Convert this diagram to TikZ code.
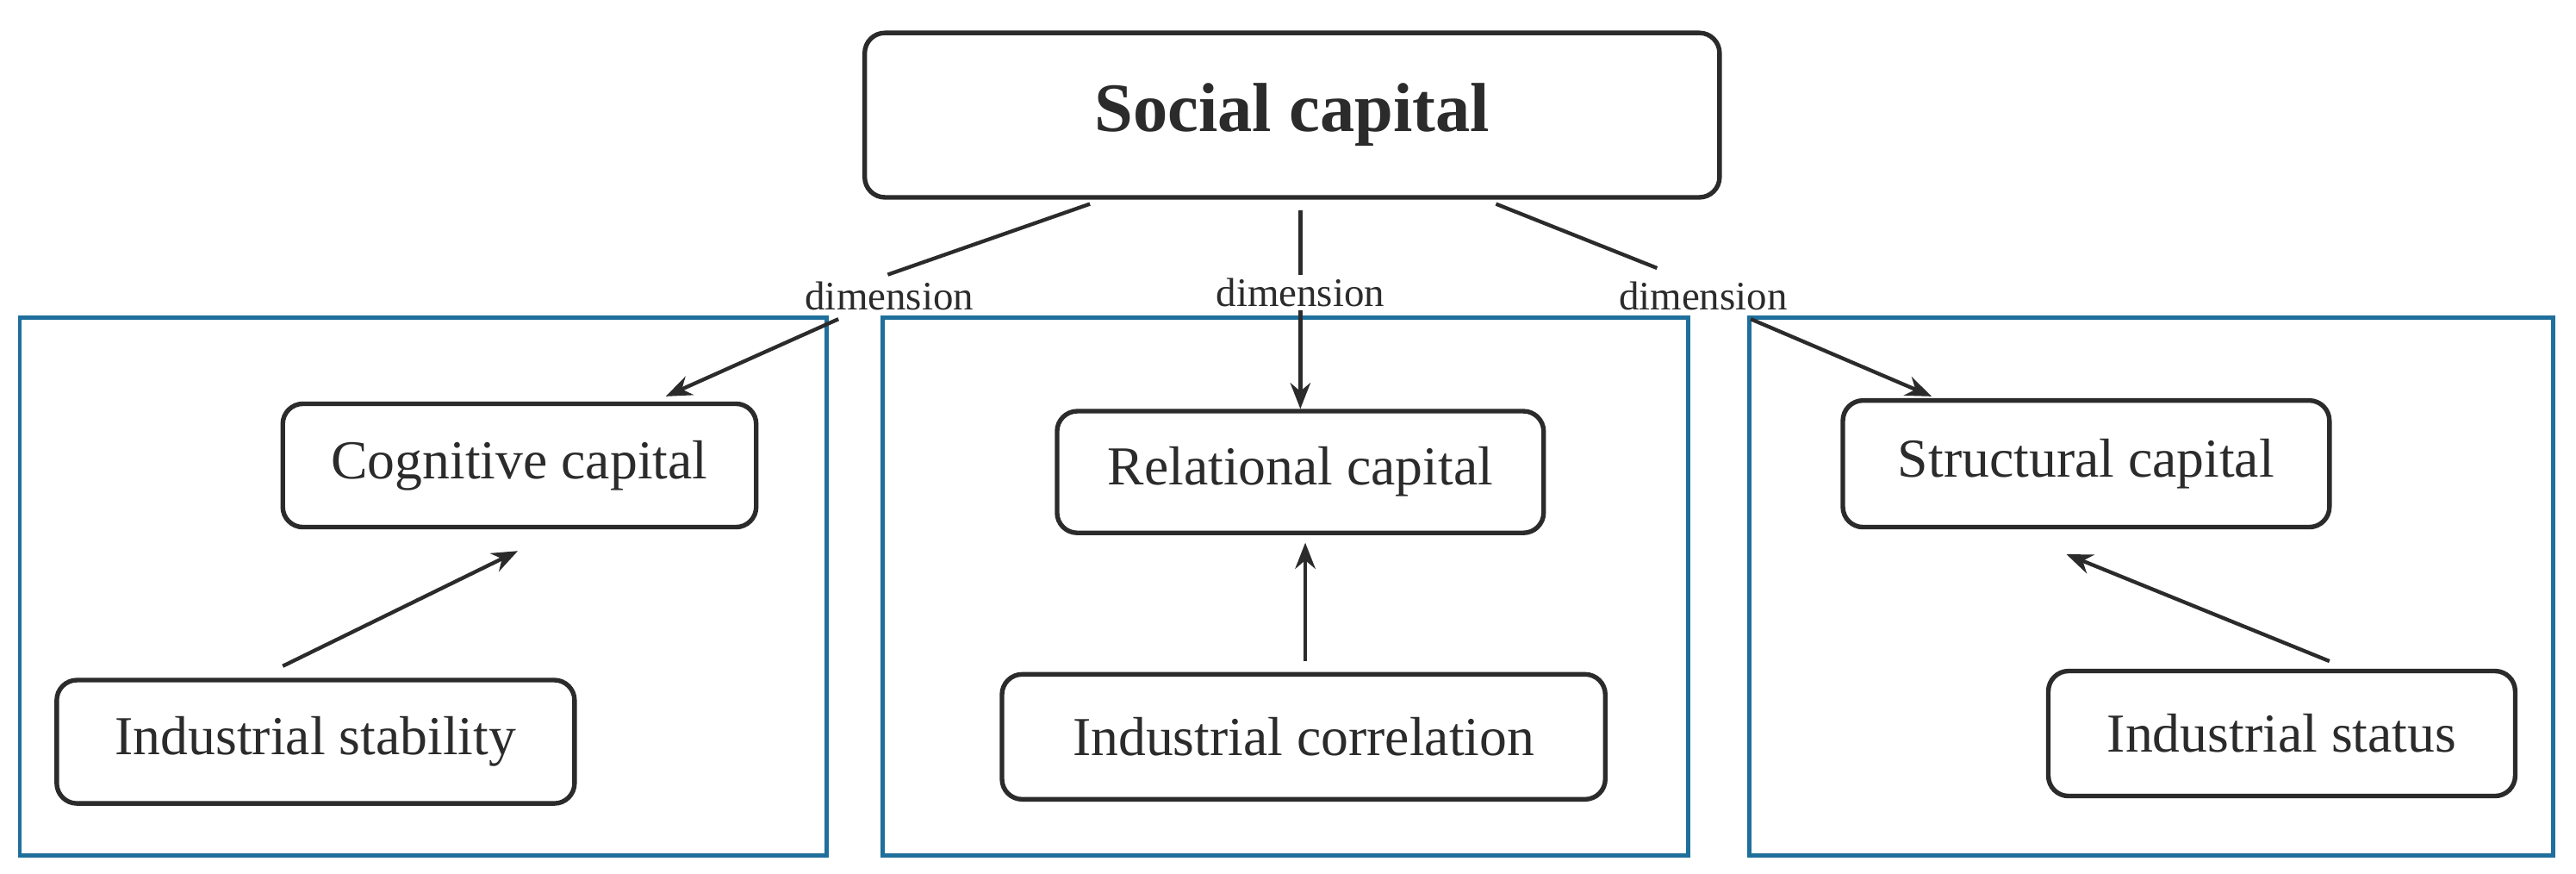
\documentclass[tikz,border=0pt]{standalone}
\usepackage{fontspec}
\setmainfont{Liberation Serif}
\usetikzlibrary{arrows,arrows.meta,positioning,calc}
\definecolor{frameblue}{HTML}{1F6F9C}
\definecolor{ink}{HTML}{2B2B2B}
\tikzset{
  box/.style={draw=ink,line width=1.6pt,rounded corners=7pt,text=ink,font=\fontsize{19}{21}\selectfont,inner sep=0pt},
  frame/.style={draw=frameblue,line width=1.4pt},
  dim/.style={text=ink,font=\fontsize{14}{16}\selectfont,inner sep=1pt},
  link/.style={draw=ink,line width=1.3pt},
  arr/.style={link,-{Stealth[length=9pt,width=7pt]}}
}
\begin{document}
\begin{tikzpicture}[x=0.02cm,y=-0.02cm]
\useasboundingbox (0,0) rectangle (1567,531);
%% frames
\draw[frame] (12,193) rectangle (503,520);
\draw[frame] (537,193) rectangle (1027,520);
\draw[frame] (1064,193) rectangle (1553,520);
%% top node
\node[box,minimum width=520*0.02cm,minimum height=100*0.02cm,font=\fontsize{24}{27}\selectfont\bfseries] (social) at (786,70) {Social capital};
%% capitals
\node[box,minimum width=288*0.02cm,minimum height=75*0.02cm] (cog) at (316,283) {Cognitive capital};
\node[box,minimum width=296*0.02cm,minimum height=74*0.02cm] (rel) at (791,287) {Relational capital};
\node[box,minimum width=296*0.02cm,minimum height=77*0.02cm] (str) at (1269,282) {Structural capital};
%% industries
\node[box,minimum width=315*0.02cm,minimum height=75*0.02cm] (stab) at (192,451) {Industrial stability};
\node[box,minimum width=367*0.02cm,minimum height=76*0.02cm] (corr) at (793,448) {Industrial correlation};
\node[box,minimum width=284*0.02cm,minimum height=76*0.02cm] (stat) at (1388,446) {Industrial status};
%% dimension labels
\node[dim] (d1) at (541,180) {dimension};
\node[dim] (d2) at (791,178) {dimension};
\node[dim] (d3) at (1036,180) {dimension};
\coordinate (s1) at (663,124);
\coordinate (s2) at (791,128);
\coordinate (s3) at (910,124);
\coordinate (c1) at (405,241);
\coordinate (c3) at (1175,241);
\coordinate (c1b) at (315,335);
\coordinate (c2b) at (794,330);
\coordinate (c3b) at (1257,337);
\coordinate (i1) at (172,405);
\coordinate (i2) at (794,402);
\coordinate (i3) at (1417,402);
%% connectors
\draw[link] (s1) -- (540,167);
\draw[arr] (510,194) -- (c1);
\draw[link] (s2) -- (d2.north);
\draw[arr] (d2.south) -- (rel.north);
\draw[link] (s3) -- (1008,163);
\draw[arr] (1065,194) -- (c3);
\draw[arr] (i1) -- (c1b);
\draw[arr] (i2) -- (c2b);
\draw[arr] (i3) -- (c3b);
\end{tikzpicture}
\end{document}
